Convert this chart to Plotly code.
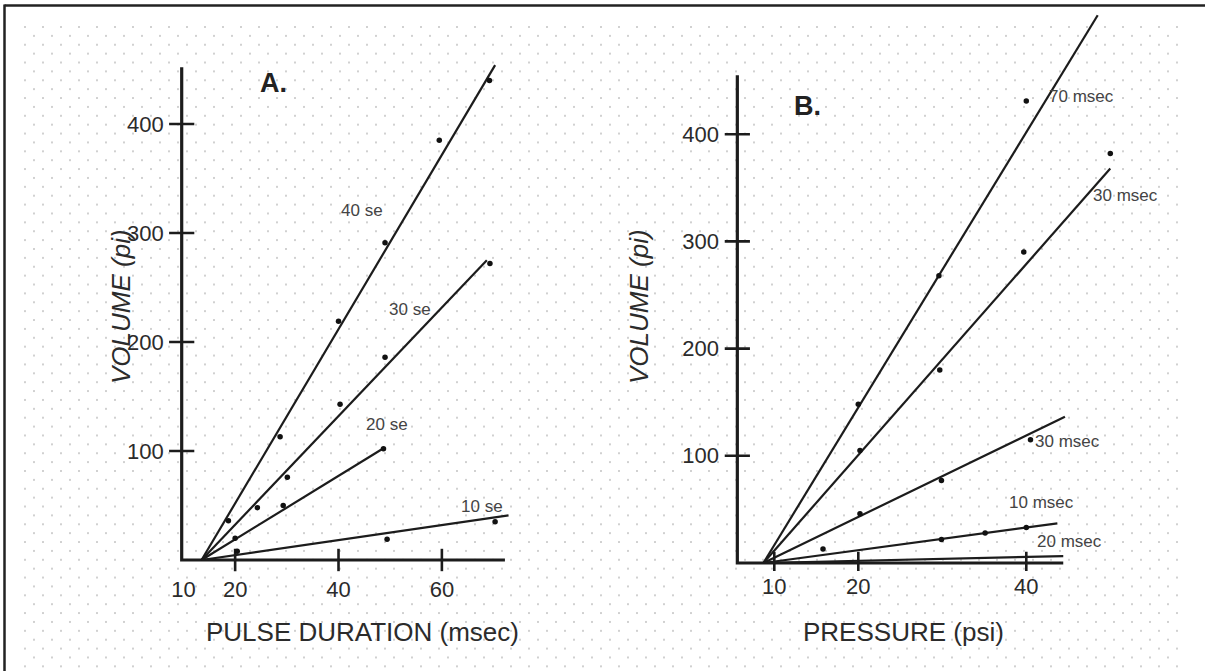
import base64
import plotly.graph_objects as go

# ---------------- Panel A: volume vs pulse duration ----------------
a_labels = ["40 se", "30 se", "20 se", "10 se"]
a_x = [
    [18.7, 28.7, 40.0, 49.0, 59.5, 69.2],
    [24.3, 30.1, 40.3, 49.0, 69.3],
    [20.0, 29.3, 48.7],
    [20.4, 49.4, 70.3],
]
a_y = [
    [36, 113, 219, 291, 385, 440],
    [48, 76, 143, 186, 272],
    [20, 50, 102],
    [8, 19, 35],
]
# fitted lines share a common intercept on the duration axis
a_fit_x0 = 13.5
a_fit_end_x = [70.3, 68.7, 48.7, 72.9]
a_fit_end_y = [454, 275, 102.5, 41]
a_label_x = [44.5, 53.8, 49.4, 67.8]
a_label_y = [321, 230, 124, 49.5]

a_xticks = [10, 20, 40, 60]
a_yticks = [100, 200, 300, 400]
a_origin_x = 9.66
a_axis_xmax = 72.2
a_axis_ymax = 452

# ---------------- Panel B: volume vs pressure ----------------
b_labels = ["70 msec", "30 msec", "30 msec", "10 msec", "20 msec"]
b_x = [
    [20.0, 29.6, 40.0],
    [20.2, 29.7, 39.7, 50.0],
    [20.2, 29.9, 40.5],
    [15.8, 29.9, 35.1, 40.0],
    [],
]
b_y = [
    [148, 268, 431],
    [105, 180, 290, 382],
    [46, 77, 115],
    [13, 22, 28, 33],
    [],
]
b_fit_x0 = 8.7
b_fit_end_x = [48.5, 50.0, 44.6, 43.7, 44.4]
b_fit_end_y = [511, 368, 136.5, 37, 6.5]
b_label_x = [46.6, 51.8, 44.9, 41.8, 45.1]
b_label_y = [435, 343, 113, 56, 20.5]

b_xticks = [10, 20, 40]
b_yticks = [100, 200, 300, 400]
b_origin_x = 5.6
b_axis_xmax = 44.4
b_axis_ymax = 455

INK = "#1c1c1c"
TEXT = "#2b2b2b"
FONT = "Liberation Sans, Arial, sans-serif"

fig = go.Figure()


def add_panel(xa, ya, xs, ys, fit_x0, end_x, end_y, labels, lab_x, lab_y,
              xticks, yticks, origin_x, axis_xmax, axis_ymax, skip_first_xtick):
    # axis lines
    fig.add_trace(go.Scatter(x=[origin_x, origin_x, axis_xmax], y=[axis_ymax, 0, 0],
                             mode="lines", line=dict(color=INK, width=3.2),
                             xaxis=xa, yaxis=ya, hoverinfo="skip", showlegend=False))
    # tick marks crossing the axes
    tx = xticks[1:] if skip_first_xtick else xticks
    fig.add_trace(go.Scatter(x=tx, y=[0] * len(tx), mode="markers",
                             marker=dict(symbol="line-ns", size=16,
                                         line=dict(color=INK, width=2.6)),
                             xaxis=xa, yaxis=ya, hoverinfo="skip", showlegend=False))
    fig.add_trace(go.Scatter(x=[origin_x] * len(yticks), y=yticks, mode="markers",
                             marker=dict(symbol="line-ew", size=18,
                                         line=dict(color=INK, width=2.6)),
                             xaxis=xa, yaxis=ya, hoverinfo="skip", showlegend=False))
    for i, name in enumerate(labels):
        fig.add_trace(go.Scatter(x=[fit_x0, end_x[i]], y=[0, end_y[i]], mode="lines",
                                 line=dict(color=INK, width=2.2),
                                 xaxis=xa, yaxis=ya, name=name, showlegend=False))
        if xs[i]:
            fig.add_trace(go.Scatter(x=xs[i], y=ys[i], mode="markers",
                                     marker=dict(color="#111111", size=5.5),
                                     xaxis=xa, yaxis=ya, name=name, showlegend=False))
        fig.add_annotation(x=lab_x[i], y=lab_y[i], xref=xa, yref=ya, text=name,
                           showarrow=False, xanchor="center", yanchor="middle",
                           font=dict(family=FONT, size=17, color="#444444"))


add_panel("x", "y", a_x, a_y, a_fit_x0, a_fit_end_x, a_fit_end_y, a_labels,
          a_label_x, a_label_y, a_xticks, a_yticks, a_origin_x, a_axis_xmax,
          a_axis_ymax, True)
add_panel("x2", "y2", b_x, b_y, b_fit_x0, b_fit_end_x, b_fit_end_y, b_labels,
          b_label_x, b_label_y, b_xticks, b_yticks, b_origin_x, b_axis_xmax,
          b_axis_ymax, False)

# panel letters
fig.add_annotation(x=27.5, y=438, xref="x", yref="y", text="<b>A.</b>", showarrow=False,
                   xanchor="center", yanchor="middle",
                   font=dict(family=FONT, size=27, color="#222222"))
fig.add_annotation(x=13.9, y=426, xref="x2", yref="y2", text="<b>B.</b>", showarrow=False,
                   xanchor="center", yanchor="middle",
                   font=dict(family=FONT, size=27, color="#222222"))

# axis titles
title_font = dict(family=FONT, size=26, color=TEXT)
title_common = dict(xref="paper", yref="paper", showarrow=False,
                    xanchor="center", yanchor="middle", font=title_font)
fig.add_annotation(x=362 / 1205, y=1 - 632 / 671, text="PULSE DURATION (msec)",
                   **title_common)
fig.add_annotation(x=903 / 1205, y=1 - 632 / 671, text="PRESSURE (psi)", **title_common)
fig.add_annotation(x=121 / 1205, y=1 - 307 / 671, text="<i>VOLUME (pi)</i>",
                   textangle=-90, **title_common)
fig.add_annotation(x=639 / 1205, y=1 - 307 / 671, text="<i>VOLUME (pi)</i>",
                   textangle=-90, **title_common)

tick_font = dict(family=FONT, size=22, color=TEXT)
axis_common = dict(showgrid=False, zeroline=False, showline=False, ticks="",
                   tickfont=tick_font, fixedrange=True)

fig.update_layout(
    width=1205, height=671,
    margin=dict(l=0, r=0, t=0, b=0),
    paper_bgcolor="white",
    plot_bgcolor="rgba(0,0,0,0)",
    showlegend=False,
    xaxis=dict(domain=[0.13668, 0.43104], range=[6.37, 75], tickvals=a_xticks,
               anchor="y", **axis_common),
    yaxis=dict(domain=[0.14464, 0.92891], range=[-12.8, 470], tickvals=a_yticks,
               anchor="x", **axis_common),
    xaxis2=dict(domain=[0.59754, 0.99112], range=[3.54, 60], tickvals=b_xticks,
                anchor="y2", **axis_common),
    yaxis2=dict(domain=[0.14898, 0.99970], range=[-7.5, 525], tickvals=b_yticks,
                anchor="x2", **axis_common),
)

# dotted page texture behind everything
svg = (
    "<svg xmlns='http://www.w3.org/2000/svg' width='1205' height='671' "
    "viewBox='0 0 1205 671' preserveAspectRatio='none'>"
    "<defs><pattern id='d' x='24' y='26' width='18' height='17.76' "
    "patternUnits='userSpaceOnUse'>"
    "<circle cx='1' cy='1' r='0.95' fill='#bdbdbd'/>"
    "<circle cx='10' cy='9.88' r='0.95' fill='#bdbdbd'/>"
    "</pattern></defs>"
    "<rect x='22' y='22' width='1160' height='649' fill='url(#d)'/></svg>"
)
fig.add_layout_image(
    source="data:image/svg+xml;base64," + base64.b64encode(svg.encode()).decode(),
    xref="paper", yref="paper", x=0, y=1, sizex=1, sizey=1,
    xanchor="left", yanchor="top", sizing="stretch", layer="below",
)

# frame along the left and top edges
fig.add_shape(type="line", xref="paper", yref="paper", x0=4.5 / 1205, x1=4.5 / 1205,
              y0=0, y1=1 - 4.5 / 671, line=dict(color="#222222", width=2.5))
fig.add_shape(type="line", xref="paper", yref="paper", x0=4.5 / 1205, x1=1,
              y0=1 - 5.5 / 671, y1=1 - 5.5 / 671, line=dict(color="#222222", width=2.5))

fig.write_html("out.html")
